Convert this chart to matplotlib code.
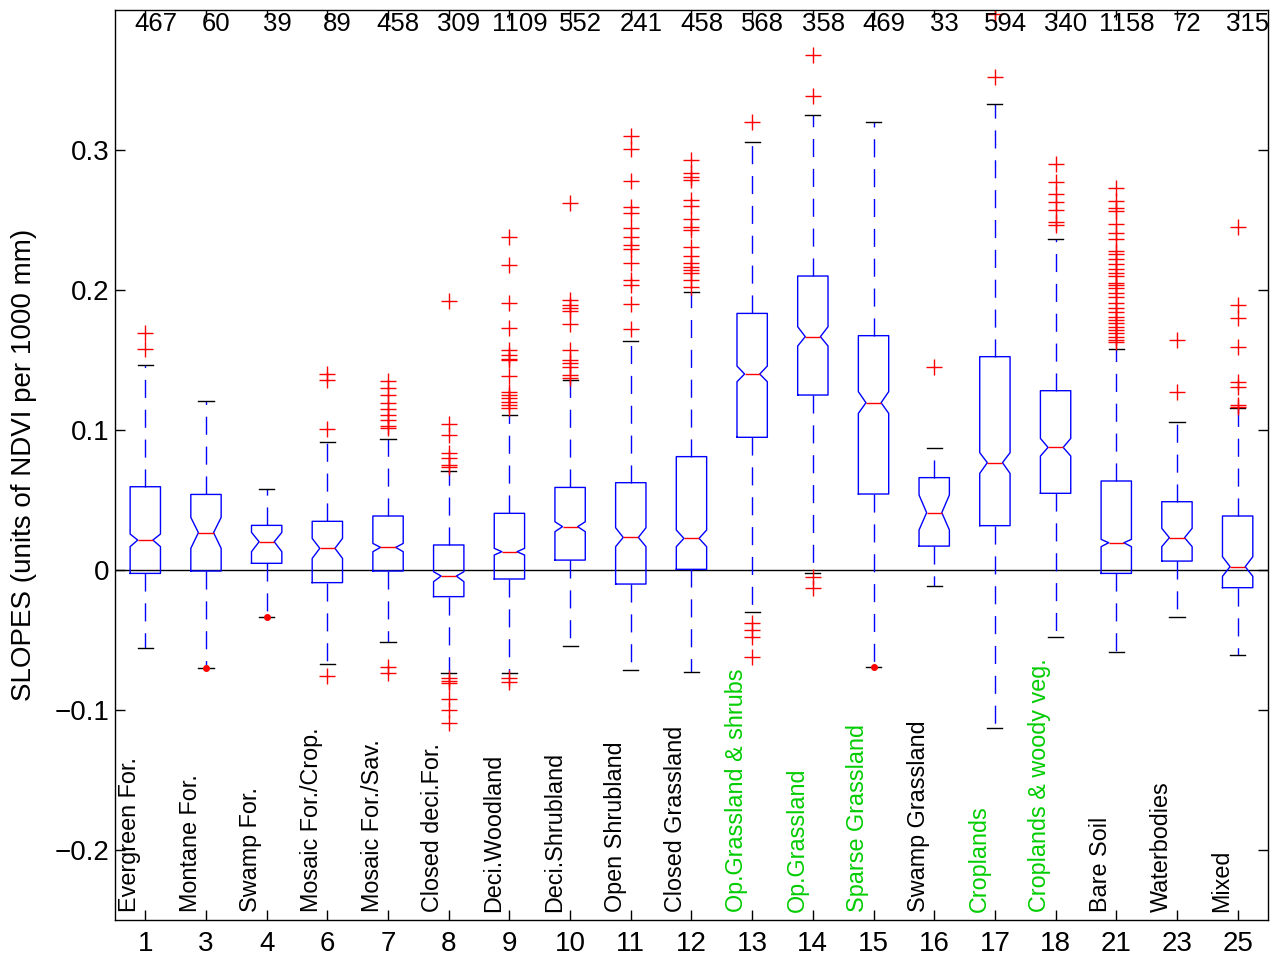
import matplotlib
matplotlib.use("Agg")
import matplotlib.pyplot as plt

# -----------------------------------------------------------------------------
# Data
# -----------------------------------------------------------------------------

CLASS_IDS = ["1", "3", "4", "6", "7", "8", "9", "10", "11", "12",
             "13", "14", "15", "16", "17", "18", "21", "23", "25"]

CLASS_NAMES = ["Evergreen For.", "Montane For.", "Swamp For.",
               "Mosaic For./Crop.", "Mosaic For./Sav.", "Closed deci.For.",
               "Deci.Woodland", "Deci.Shrubland", "Open Shrubland",
               "Closed Grassland", "Op.Grassland & shrubs", "Op.Grassland",
               "Sparse Grassland", "Swamp Grassland", "Croplands",
               "Croplands & woody veg.", "Bare Soil", "Waterbodies", "Mixed"]

HIGHLIGHT = ["Op.Grassland & shrubs", "Op.Grassland", "Sparse Grassland",
             "Croplands", "Croplands & woody veg."]

COUNTS = [467, 60, 39, 89, 458, 309, 1109, 552, 241, 458,
          568, 358, 469, 33, 594, 340, 1158, 72, 315]

Q1 = [-0.0024, -0.0007, 0.0048, -0.0090, -0.0007, -0.0190, -0.0064, 0.0071,
      -0.0100, 0.0005, 0.0948, 0.1250, 0.0543, 0.0171, 0.0317, 0.0548,
      -0.0024, 0.0064, -0.0126]
MEDIAN = [0.0214, 0.0267, 0.0202, 0.0155, 0.0162, -0.0043, 0.0131, 0.0310,
          0.0233, 0.0226, 0.1400, 0.1667, 0.1195, 0.0410, 0.0767, 0.0876,
          0.0195, 0.0231, 0.0024]
Q3 = [0.0595, 0.0540, 0.0319, 0.0348, 0.0386, 0.0179, 0.0405, 0.0590,
      0.0624, 0.0810, 0.1833, 0.2100, 0.1674, 0.0660, 0.1524, 0.1281,
      0.0636, 0.0488, 0.0386]
CI_LO = [0.0167, 0.0155, 0.0131, 0.0083, 0.0131, -0.0083, 0.0107, 0.0274,
         0.0167, 0.0167, 0.1345, 0.1600, 0.1119, 0.0286, 0.0690, 0.0814,
         0.0167, 0.0167, -0.0045]
CI_HI = [0.0257, 0.0376, 0.0269, 0.0226, 0.0190, -0.0012, 0.0155, 0.0345,
         0.0302, 0.0286, 0.1457, 0.1738, 0.1274, 0.0536, 0.0838, 0.0940,
         0.0219, 0.0298, 0.0095]
WHISK_LO = [-0.0560, -0.0698, -0.0338, -0.0674, -0.0514, -0.0738, -0.0733,
            -0.0543, -0.0714, -0.0726, -0.0298, -0.0024, -0.0690, -0.0114,
            -0.1130, -0.0480, -0.0583, -0.0333, -0.0607]
WHISK_HI = [0.1464, 0.1207, 0.0576, 0.0912, 0.0936, 0.0710, 0.1107, 0.1357,
            0.1638, 0.1983, 0.3055, 0.3250, 0.3200, 0.0874, 0.3329, 0.2364,
            0.1580, 0.1055, 0.1160]

OUTLIERS = [
    [0.169, 0.158],
    [],
    [],
    [0.140, 0.136, 0.1005, -0.0755],
    [0.1352, 0.1298, 0.125, 0.1195, 0.1148, 0.1107, 0.1071, 0.1031, 0.1012,
     -0.069, -0.0733],
    [0.192, 0.104, 0.0964, 0.0833, 0.0798, 0.075, 0.0738,
     -0.077, -0.079, -0.081, -0.092, -0.100, -0.109],
    [0.238, 0.218, 0.191, 0.173, 0.157, 0.1536, 0.1507, 0.150, 0.1386,
     0.1274, 0.125, 0.1226, 0.1202, 0.1179, 0.1155, -0.0774, -0.0798],
    [0.2624, 0.193, 0.189, 0.187, 0.185, 0.176, 0.157, 0.150, 0.1476,
     0.145, 0.139, 0.1374],
    [0.310, 0.3007, 0.2779, 0.2595, 0.2548, 0.244, 0.238, 0.232, 0.229,
     0.219, 0.207, 0.2036, 0.190, 0.172],
    [0.2929, 0.2833, 0.281, 0.2786, 0.2643, 0.260, 0.251, 0.245, 0.243,
     0.2305, 0.224, 0.219, 0.2167, 0.2143, 0.212, 0.207, 0.2019],
    [0.320, -0.038, -0.0429, -0.048, -0.0624],
    [0.3679, 0.3386, -0.0048, -0.0131],
    [],
    [0.1448],
    [0.3524, 0.397],
    [0.2898, 0.2774, 0.2683, 0.2631, 0.2571, 0.2488, 0.2464],
    [0.2731, 0.2636, 0.2588, 0.2564, 0.2469, 0.2409, 0.2362, 0.2279, 0.2255,
     0.2219, 0.2183, 0.2148, 0.2124, 0.2101, 0.2052, 0.2036, 0.2012, 0.1976,
     0.1952, 0.1905, 0.1869, 0.1845, 0.1810, 0.1786, 0.1762, 0.1738, 0.1714,
     0.1690, 0.1667, 0.1643, 0.1630],
    [0.1643, 0.1269],
    [0.245, 0.1893, 0.1798, 0.1595, 0.1345, 0.131, 0.1179, 0.1167],
]

# single outliers sitting right on the lower whisker end (drawn as dots)
DOT_CLASSES = ["3", "4", "15"]
DOT_VALUES = [-0.0698, -0.0338, -0.0690]

# -----------------------------------------------------------------------------
# Style
# -----------------------------------------------------------------------------

plt.rcParams["font.family"] = ["Liberation Sans", "DejaVu Sans"]

BLUE = "#0000ff"
RED = "#ff0000"
GREEN = "#00cc00"
TICK_FS = 20
NAME_FS = 16.8
COUNT_FS = 18.5
LABEL_FS = 20

# -----------------------------------------------------------------------------
# Plot
# -----------------------------------------------------------------------------

fig = plt.figure(figsize=(12.83, 9.63), dpi=100)
ax = fig.add_axes([0.0896, 0.0446, 0.8987, 0.945])

positions = list(range(1, len(CLASS_IDS) + 1))
stats = []
for i in range(len(CLASS_IDS)):
    stats.append({
        "med": MEDIAN[i], "q1": Q1[i], "q3": Q3[i],
        "cilo": CI_LO[i], "cihi": CI_HI[i],
        "whislo": WHISK_LO[i], "whishi": WHISK_HI[i],
        "fliers": OUTLIERS[i],
    })

ax.axhline(0, color="black", lw=1.0, zorder=1)

ax.bxp(
    stats,
    positions=positions,
    widths=0.5,
    shownotches=True,
    boxprops=dict(color=BLUE, lw=1.0),
    whiskerprops=dict(color=BLUE, lw=1.0, linestyle=(0, (13, 8.5))),
    capprops=dict(color="black", lw=1.0),
    medianprops=dict(color=RED, lw=1.0),
    flierprops=dict(marker="+", markeredgecolor=RED, markersize=11,
                    markeredgewidth=1.0, linestyle="none"),
)

dot_x = [positions[CLASS_IDS.index(c)] for c in DOT_CLASSES]
ax.plot(dot_x, DOT_VALUES, "o", color=RED, markersize=4, zorder=5)

ax.set_xlim(0.5, len(CLASS_IDS) + 0.5)
ax.set_ylim(-0.25, 0.4)

ax.set_xticks(positions)
ax.set_xticklabels(CLASS_IDS)
ax.set_yticks([-0.2, -0.1, 0, 0.1, 0.2, 0.3])
ax.set_yticklabels(["\u22120.2", "\u22120.1", "0", "0.1", "0.2", "0.3"])
ax.tick_params(axis="both", direction="in", length=7, width=1.0,
               top=True, right=True, labelsize=TICK_FS)
ax.tick_params(axis="x", pad=8)
ax.tick_params(axis="y", pad=4)

for sp in ax.spines.values():
    sp.set_linewidth(1.0)

ax.set_ylabel("SLOPES (units of NDVI per 1000 mm)", fontsize=LABEL_FS)
ax.yaxis.set_label_coords(-0.068, 0.5)

# sample counts along the top
for x, n in zip(positions, COUNTS):
    ax.text(x + 0.17, 0.39, str(n), ha="center", va="center",
            fontsize=COUNT_FS)

# class names, rotated, along the bottom
for x, name in zip(positions, CLASS_NAMES):
    col = GREEN if name in HIGHLIGHT else "black"
    ax.text(x - 0.07, -0.244, name, rotation=90, ha="right", va="bottom",
            fontsize=NAME_FS, color=col)

fig.savefig("out.png", dpi=100)
